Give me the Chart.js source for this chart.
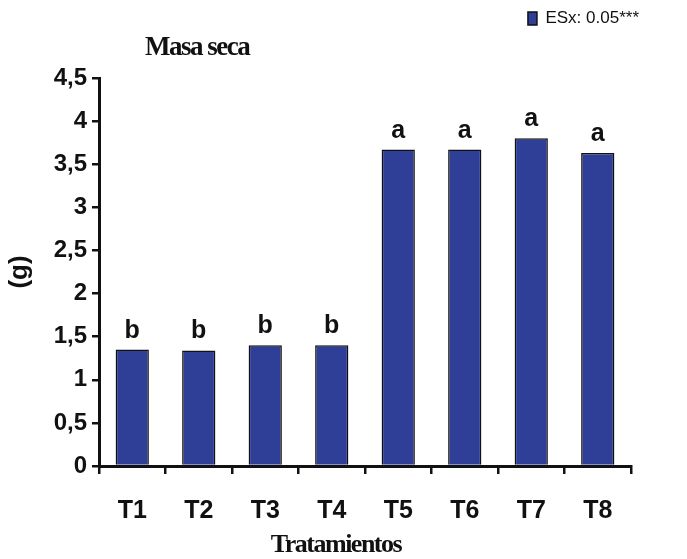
<!DOCTYPE html>
<html>
<head>
<meta charset="utf-8">
<script src="https://cdn.jsdelivr.net/npm/chart.js@4.4.0/dist/chart.umd.min.js"></script>
<style>
  html, body { margin: 0; padding: 0; background: #fff; }
  #wrap { width: 687px; height: 559px; }
</style>
</head>
<body>
<div id="wrap"><canvas id="masaChart"></canvas></div>
<script>
// datos
const tratamientos = ["T1", "T2", "T3", "T4", "T5", "T6", "T7", "T8"];
const masaSeca = [1.35, 1.34, 1.40, 1.40, 3.67, 3.67, 3.80, 3.63];
const letras = ["b", "b", "b", "b", "a", "a", "a", "a"];
const yTicks = [0, 0.5, 1, 1.5, 2, 2.5, 3, 3.5, 4, 4.5];
const leyenda = "ESx: 0.05***";
const titulo = "Masa seca";
const tituloX = "Tratamientos";

const AZUL = "#2f3e96";
const sans = "'Liberation Sans', Arial, sans-serif";
const serif = "'Liberation Serif', 'Times New Roman', serif";

// letras de significancia sobre las barras + titulos
const letrasPlugin = {
  id: "letras",
  afterDatasetsDraw(chart) {
    const ctx = chart.ctx;
    const meta = chart.getDatasetMeta(0);
    ctx.save();
    ctx.fillStyle = "#111";
    ctx.font = "bold 25px " + sans;
    ctx.textAlign = "center";
    ctx.textBaseline = "alphabetic";
    meta.data.forEach((bar, i) => {
      ctx.fillText(letras[i], bar.x, bar.y - 12);
    });
    ctx.letterSpacing = "-1.5px";
    ctx.font = "bold 27px " + serif;
    ctx.textAlign = "left";
    ctx.textBaseline = "middle";
    ctx.fillText(titulo, 145, 48);
    ctx.font = "bold 26px " + serif;
    ctx.textAlign = "center";
    ctx.fillText(tituloX, 336, 545);
    ctx.restore();
  }
};

const ctx = document.getElementById("masaChart");

new Chart(ctx, {
  type: "bar",
  data: {
    labels: tratamientos,
    datasets: [{
      label: leyenda,
      data: masaSeca,
      backgroundColor: AZUL,
      borderColor: "#111",
      borderWidth: 1.5,
      barPercentage: 0.5,
      categoryPercentage: 1
    }]
  },
  options: {
    responsive: true,
    maintainAspectRatio: false,
    animation: false,
    layout: { padding: { left: 0, right: 40, top: 2, bottom: 0 } },
    plugins: {
      tooltip: { enabled: false },
      legend: {
        position: "top",
        align: "end",
        labels: {
          boxWidth: 9,
          boxHeight: 13,
          padding: 8,
          color: "#111",
          font: { family: sans, size: 17 }
        }
      }
    },
    scales: {
      x: {
        position: "bottom",
        afterFit: s => { s.height = 93; },
        border: { display: true, color: "#111", width: 3 },
        grid: { display: true, drawOnChartArea: false, drawTicks: true, tickLength: 8, color: "#111", lineWidth: 2.5 },
        ticks: { color: "#111", padding: 22, font: { family: sans, size: 25, weight: "bold" } }
      },
      y: {
        min: 0,
        max: 4.5,
        afterFit: s => { s.width = 99; },
        afterBuildTicks: s => { s.ticks = yTicks.map(v => ({ value: v })); },
        border: { display: true, color: "#111", width: 3 },
        grid: { display: true, drawOnChartArea: false, drawTicks: true, tickLength: 7, color: "#111", lineWidth: 2.5 },
        ticks: {
          color: "#111",
          padding: 5,
          font: { family: sans, size: 24, weight: "bold" },
          callback: v => String(v).replace(".", ",")
        },
        title: {
          display: true,
          text: "(g)",
          color: "#111",
          padding: { top: 4, bottom: 0 },
          font: { family: sans, size: 26, weight: "bold" }
        }
      },
      // ejes de relleno para fijar el area del grafico
      xTop: {
        axis: "x",
        position: "top",
        display: true,
        grid: { display: false },
        border: { display: false },
        ticks: { display: false },
        afterFit: s => {
          const lh = s.chart.legend ? (s.chart.legend.height || 0) : 0;
          s.height = Math.max(0, 78 - 2 - lh);
        }
      },
      yRight: {
        axis: "y",
        position: "right",
        display: true,
        grid: { display: false },
        border: { display: false },
        ticks: { display: false },
        afterFit: s => { s.width = 16; }
      }
    }
  },
  plugins: [letrasPlugin]
});
</script>
</body>
</html>
